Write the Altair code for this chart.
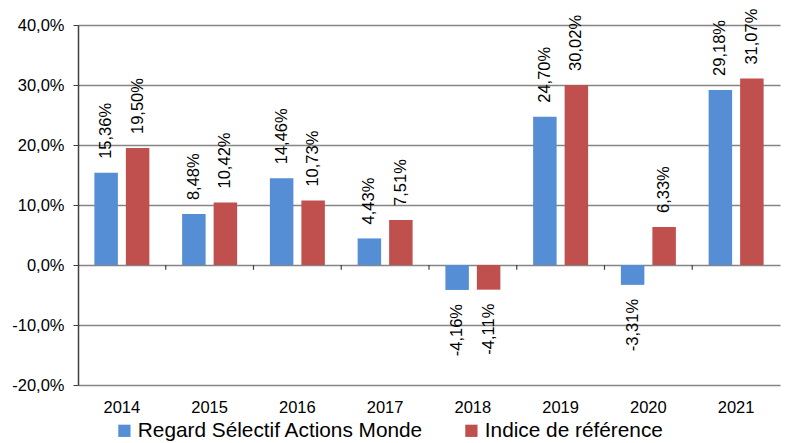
import altair as alt
import pandas as pd

years = ["2014", "2015", "2016", "2017", "2018", "2019", "2020", "2021"]
fund = [15.36, 8.48, 14.46, 4.43, -4.16, 24.70, -3.31, 29.18]
index = [19.50, 10.42, 10.73, 7.51, -4.11, 30.02, 6.33, 31.07]
series = ["Regard Sélectif Actions Monde", "Indice de référence"]
colors = ["#558ED5", "#C0504D"]
y_ticks = [-20, -10, 0, 10, 20, 30, 40]

rows = []
for i, y in enumerate(years):
    rows.append({"year": y, "series": series[0], "v": fund[i]})
    rows.append({"year": y, "series": series[1], "v": index[i]})
df = pd.DataFrame(rows)
tick_df = pd.DataFrame({"year": years[1:], "a": [0] * 7, "b": [-0.8] * 7})

FONT = "Liberation Sans"

x = alt.X("year:N", sort=years, title=None,
          scale=alt.Scale(paddingInner=0, paddingOuter=0),
          axis=alt.Axis(labelAngle=0, ticks=False, domain=False, labelFontSize=16.5,
                        labelFont=FONT, labelColor="#000", labelPadding=14))
xo = alt.XOffset("series:N", sort=series,
                 scale=alt.Scale(paddingInner=0.254, paddingOuter=0.52))
y = alt.Y("v:Q", title=None,
          scale=alt.Scale(domain=[-20, 40], nice=False, zero=False),
          axis=alt.Axis(values=y_ticks,
                        labelExpr="replace(replace(format(datum.value, '.1f'), '.', ','), '\u2212', '-') + '%'",
                        labelFontSize=16.5, labelFont=FONT, labelColor="#000", labelPadding=9,
                        tickSize=5, tickColor="#404040", domainColor="#404040", domainWidth=1.5,
                        gridColor="#858585", gridWidth=1.5))

base = alt.Chart(df).transform_calculate(
    lbl="replace(replace(format(datum.v, '.2f'), '.', ','), '\u2212', '-') + '%'"
)

bars = base.mark_bar().encode(
    x=x, xOffset=xo, y=y, y2=alt.datum(0),
    color=alt.Color("series:N", sort=series,
                    scale=alt.Scale(domain=series, range=colors),
                    legend=alt.Legend(title=None, orient="none", legendX=36, legendY=395,
                                      direction="horizontal", symbolType="square",
                                      symbolSize=150, symbolStrokeWidth=0,
                                      labelFontSize=20.8, labelFont=FONT, labelColor="#000",
                                      labelLimit=0, columnPadding=37, labelOffset=3)),
)

pos_text = base.transform_filter("datum.v >= 0").mark_text(
    angle=270, align="left", baseline="middle", dx=14, fontSize=16.5, font=FONT, color="#000"
).encode(x=x, xOffset=xo, y=alt.Y("v:Q"), text="lbl:N")

neg_text = base.transform_filter("datum.v < 0").mark_text(
    angle=270, align="right", baseline="middle", dx=-14, fontSize=16.5, font=FONT, color="#000"
).encode(x=x, xOffset=xo, y=alt.Y("v:Q"), text="lbl:N")

ticks = alt.Chart(tick_df).mark_rule(color="#404040", strokeWidth=1.2).encode(
    x=alt.X("year:N", sort=years, bandPosition=0), y=alt.Y("a:Q"), y2="b:Q"
)

chart = alt.layer(bars, ticks, pos_text, neg_text).properties(
    width=702, height=360,
    autosize=alt.AutoSizeParams(type="none"),
    padding={"left": 70, "top": 17, "right": 5, "bottom": 58},
).configure_view(stroke=None).configure_axis(domain=True)

chart.save("out.html", embed_options={"renderer": "svg", "actions": False})
